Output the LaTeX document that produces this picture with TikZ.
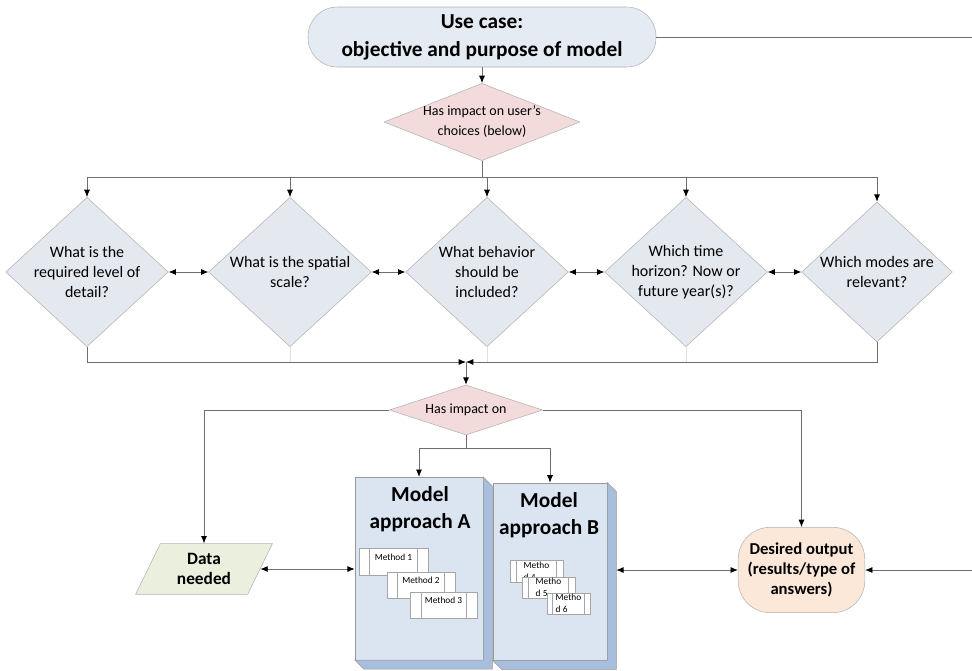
\documentclass[tikz,border=0pt]{standalone}
\usepackage{fontspec}
\setmainfont{Carlito}
\usetikzlibrary{shapes.geometric,arrows.meta}
\definecolor{linegray}{RGB}{110,110,110}
\definecolor{qfill}{RGB}{228,232,239}
\definecolor{termfill}{RGB}{229,235,243}
\definecolor{pinkfill}{RGB}{242,219,218}
\definecolor{modelfill}{RGB}{219,229,241}
\definecolor{bevelfill}{RGB}{167,190,221}
\definecolor{datafill}{RGB}{234,240,221}
\definecolor{outfill}{RGB}{252,232,216}

\begin{document}
\begin{tikzpicture}[x=0.75pt,y=-0.75pt,
	conn/.style={draw=linegray,line width=0.6pt},
	arr/.style={conn,-{Latex[length=5.5pt,width=4.5pt,black]}},
	darr/.style={conn,{Latex[length=5.5pt,width=4.5pt,black]}-{Latex[length=5.5pt,width=4.5pt,black]}},
	question/.style={diamond,draw=gray!60,fill=qfill,inner sep=-3pt,align=center,font=\fontsize{12}{15}\selectfont,minimum width=122pt,minimum height=112pt},
	impact/.style={diamond,draw=gray!60,fill=pinkfill,inner sep=-2pt,align=center,font=\fontsize{10.5}{15}\selectfont},
	front/.style={rectangle,draw=gray!80,fill=modelfill,inner sep=0pt},
	bevel/.style={draw=gray!80,fill=bevelfill},
	modeltitle/.style={align=center,font=\fontsize{16}{20}\selectfont\bfseries},
	method/.style={rectangle,draw=gray!70,fill=white,inner sep=1pt,align=left,font=\fontsize{7}{9}\selectfont,
		path picture={\draw[gray!70] ([xshift=#1]path picture bounding box.north west) -- ([xshift=#1]path picture bounding box.south west)
			([xshift=-#1]path picture bounding box.north east) -- ([xshift=-#1]path picture bounding box.south east);}},
	method/.default=8pt]
	\useasboundingbox (0,0) rectangle (972,671);

	\node[rectangle,rounded corners=22pt,draw=gray!60,fill=termfill,minimum width=261pt,minimum height=45pt,align=center,font=\fontsize{16}{21}\selectfont\bfseries] (usecase) at (482,37) {Use case:\\objective and purpose of model};
	\node[impact,aspect=2.55,minimum width=147pt,minimum height=58pt] (choices) at (482,122) {Has impact on user's\\choices (below)};

	\node[question] (detail) at (87,272) {What is the\\required level of\\detail?};
	\node[question] (scale) at (290,272) {What is the spatial\\scale?};
	\node[question] (behavior) at (487,272) {What behavior\\should be\\included?};
	\node[question] (horizon) at (686,272) {Which time\\horizon? Now or\\future year(s)?};
	\node[question,minimum width=113pt,minimum height=105pt] (modes) at (877,272) {Which modes are\\relevant?};

	\node[impact,aspect=3.06,minimum width=115pt,minimum height=37.5pt] (hasimpact) at (466,410) {Has impact on};

	\node[front,minimum width=96pt,minimum height=137pt] (approachA) at (419,568.5) {};
	\filldraw[bevel] (approachA.north east) -- ([shift={(9,9)}]approachA.north east) -- ([shift={(9,9)}]approachA.south east) -- ([shift={(9,9)}]approachA.south west) -- (approachA.south west) -- (approachA.south east) -- cycle;
	\node[front,minimum width=85.5pt,minimum height=133pt] (approachB) at (550,571.5) {};
	\filldraw[bevel] (approachB.north east) -- ([shift={(9,9)}]approachB.north east) -- ([shift={(9,9)}]approachB.south east) -- ([shift={(9,9)}]approachB.south west) -- (approachB.south west) -- (approachB.south east) -- cycle;
	\node[modeltitle] (titleA) at (420,509) {Model\\approach A};
	\node[modeltitle] (titleB) at (549,515) {Model\\approach B};

	\node[method,minimum width=52pt,minimum height=20pt,text depth=7pt] (m1) at (393.5,561.5) {Method 1};
	\node[method,minimum width=51pt,minimum height=19.5pt,text depth=7pt] (m2) at (421,585) {Method 2};
	\node[method,minimum width=50pt,minimum height=19.5pt,text depth=7pt] (m3) at (443.5,605) {Method 3};
	\node[method=5pt,minimum width=40pt,minimum height=16.5pt] (m4) at (536.5,571) {Metho\\d 4};
	\node[method=5pt,minimum width=40pt,minimum height=16pt] (m5) at (548.5,587.5) {Metho\\d 5};
	\node[method=4pt,minimum width=32pt,minimum height=16pt] (m6) at (568.5,603.5) {Metho\\d 6};

	\node[trapezium,trapezium left angle=64,trapezium right angle=116,draw=gray!60,fill=datafill,minimum width=92pt,minimum height=38pt,inner sep=0pt,align=center,font=\fontsize{13}{15}\selectfont\bfseries] (data) at (204,569) {Data\\needed};
	\node[rectangle,rounded corners=24pt,draw=gray!60,fill=outfill,minimum width=95pt,minimum height=64pt,align=center,font=\fontsize{12.5}{15}\selectfont\bfseries] (output) at (801.5,570) {Desired output\\(results/type of\\answers)};

	\coordinate (split) at (482,177);
	\coordinate (merge) at (466,362);
	\coordinate (fork) at (466,448);
	\coordinate (edgetop) at (972,37);
	\coordinate (edgeout) at (972,570);

	\draw[arr] (usecase) -- (choices);
	\draw[conn] (usecase.east) -- (edgetop);
	\draw[conn] (choices.south) -- (split);
	\foreach \q in {detail,scale,behavior,horizon,modes}
		\draw[arr] (split) -| (\q.north);
	\foreach \a/\b in {detail/scale,scale/behavior,behavior/horizon,horizon/modes}
		\draw[darr] (\a.east) -- (\b.west);
	\foreach \q in {scale,behavior,horizon}
		\draw[conn,draw=gray!25] (\q.south) -- (\q.south |- merge);
	\draw[arr] (detail.south) |- (merge);
	\draw[arr] (modes.south) |- (merge);
	\draw[arr] (merge) -- (hasimpact.north);
	\draw[arr] (hasimpact.west) -| (data.north);
	\draw[arr] (hasimpact.east) -| (output.north);
	\draw[conn] (hasimpact.south) -- (fork);
	\draw[arr] (fork) -| (approachA.north);
	\draw[arr] (fork) -| (approachB.north);
	\draw[darr] (data.east) -- (approachA.west |- data.east);
	\draw[darr] ([xshift=6.75pt]approachB.east |- output.west) -- (output.west);
	\draw[arr] (edgeout) -- (output.east);
\end{tikzpicture}
\end{document}
